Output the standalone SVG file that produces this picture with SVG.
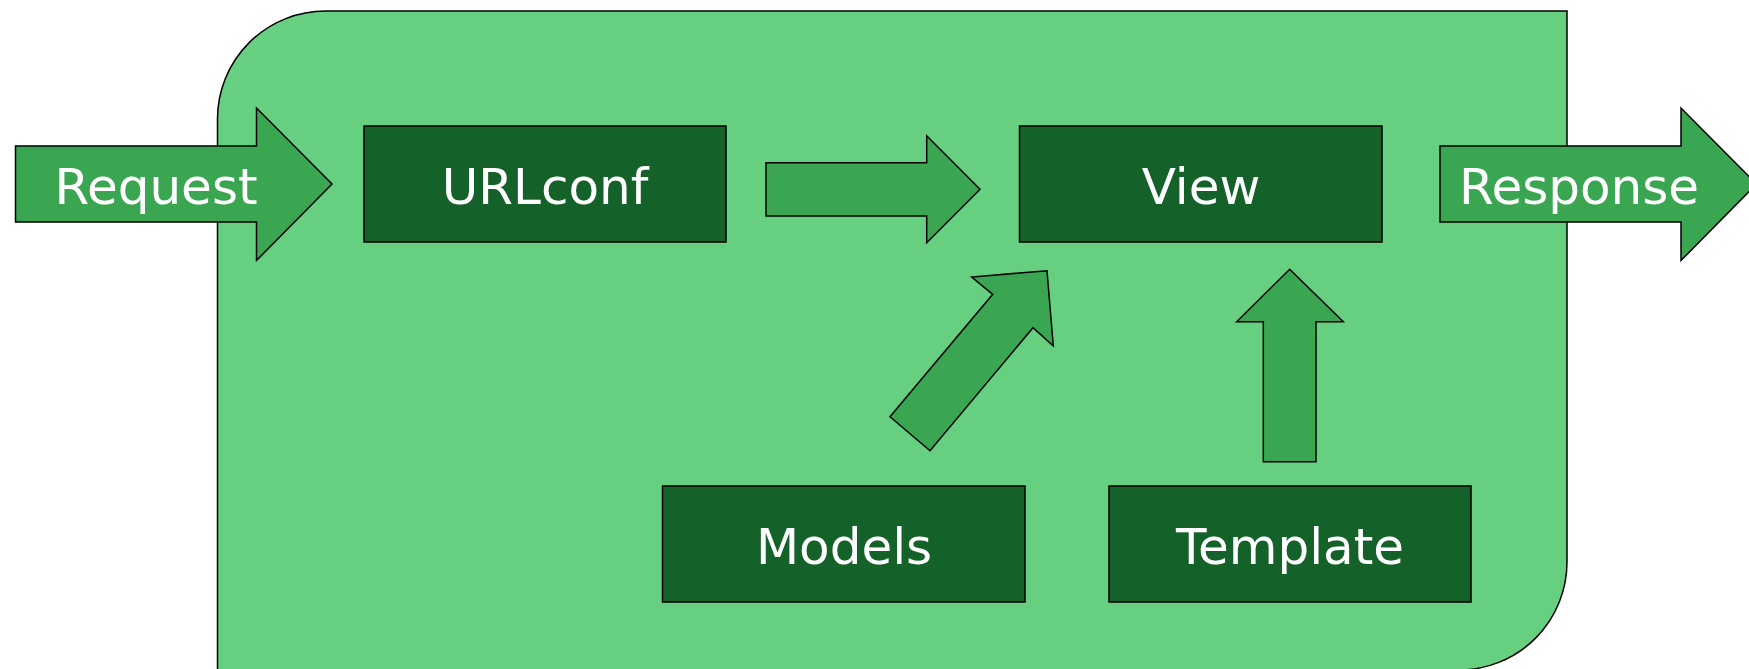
<svg xmlns="http://www.w3.org/2000/svg" width="1749" height="669" viewBox="0 0 1749 669">
<style>
.bg{fill:#66CF80;stroke:#000;stroke-width:1.5}
.arr{fill:#3AA652;stroke:#000;stroke-width:1.5;stroke-linejoin:miter}
.box{fill:#146229;stroke:#000;stroke-width:1.5}
.t{font-family:"DejaVu Sans",Verdana,sans-serif;font-size:50px;fill:#fff;text-anchor:middle}
</style>
<rect width="1749" height="669" fill="#fff"/>
<g id="framework">
<path class="bg" d="M217.5,119 A108,108 0 0 1 325.5,11 H1567 V562 A108,108 0 0 1 1459,670 H217.5 Z"/>
</g>
<g id="request">
<polygon class="arr" points="15.5,146 256.5,146 256.5,108 332,184 256.5,260.5 256.5,222 15.5,222"/>
<text class="t" x="156" y="204">Request</text>
</g>
<g id="urlconf">
<rect class="box" x="364" y="126" width="362" height="116"/>
<text class="t" x="545" y="204">URLconf</text>
</g>
<g id="view">
<rect class="box" x="1019.5" y="126" width="362.5" height="116"/>
<text class="t" x="1201" y="204">View</text>
</g>
<g id="response">
<polygon class="arr" points="1440,146 1681,146 1681,108 1756.5,184 1681,260.5 1681,222 1440,222"/>
<text class="t" x="1579" y="204">Response</text>
</g>
<g id="models">
<rect class="box" x="662.5" y="486" width="362.5" height="116"/>
<text class="t" x="844" y="563.5">Models</text>
</g>
<g id="template">
<rect class="box" x="1109" y="486" width="362" height="116"/>
<text class="t" x="1290" y="563.5">Template</text>
</g>
<g id="connectors">
<polygon class="arr" points="766,162.7 926.7,162.7 926.7,135.7 980,189.3 926.7,242.7 926.7,216 766,216"/>
<polygon class="arr" points="890,416.7 930,450.7 1033,327.7 1053.3,346 1047,270.7 971.7,277 992.7,294.3"/>
<polygon class="arr" points="1263.3,461.7 1316,461.7 1316,321.7 1343.3,321.7 1289.7,269.3 1236.7,321.7 1263.3,321.7"/>
</g>
</svg>
